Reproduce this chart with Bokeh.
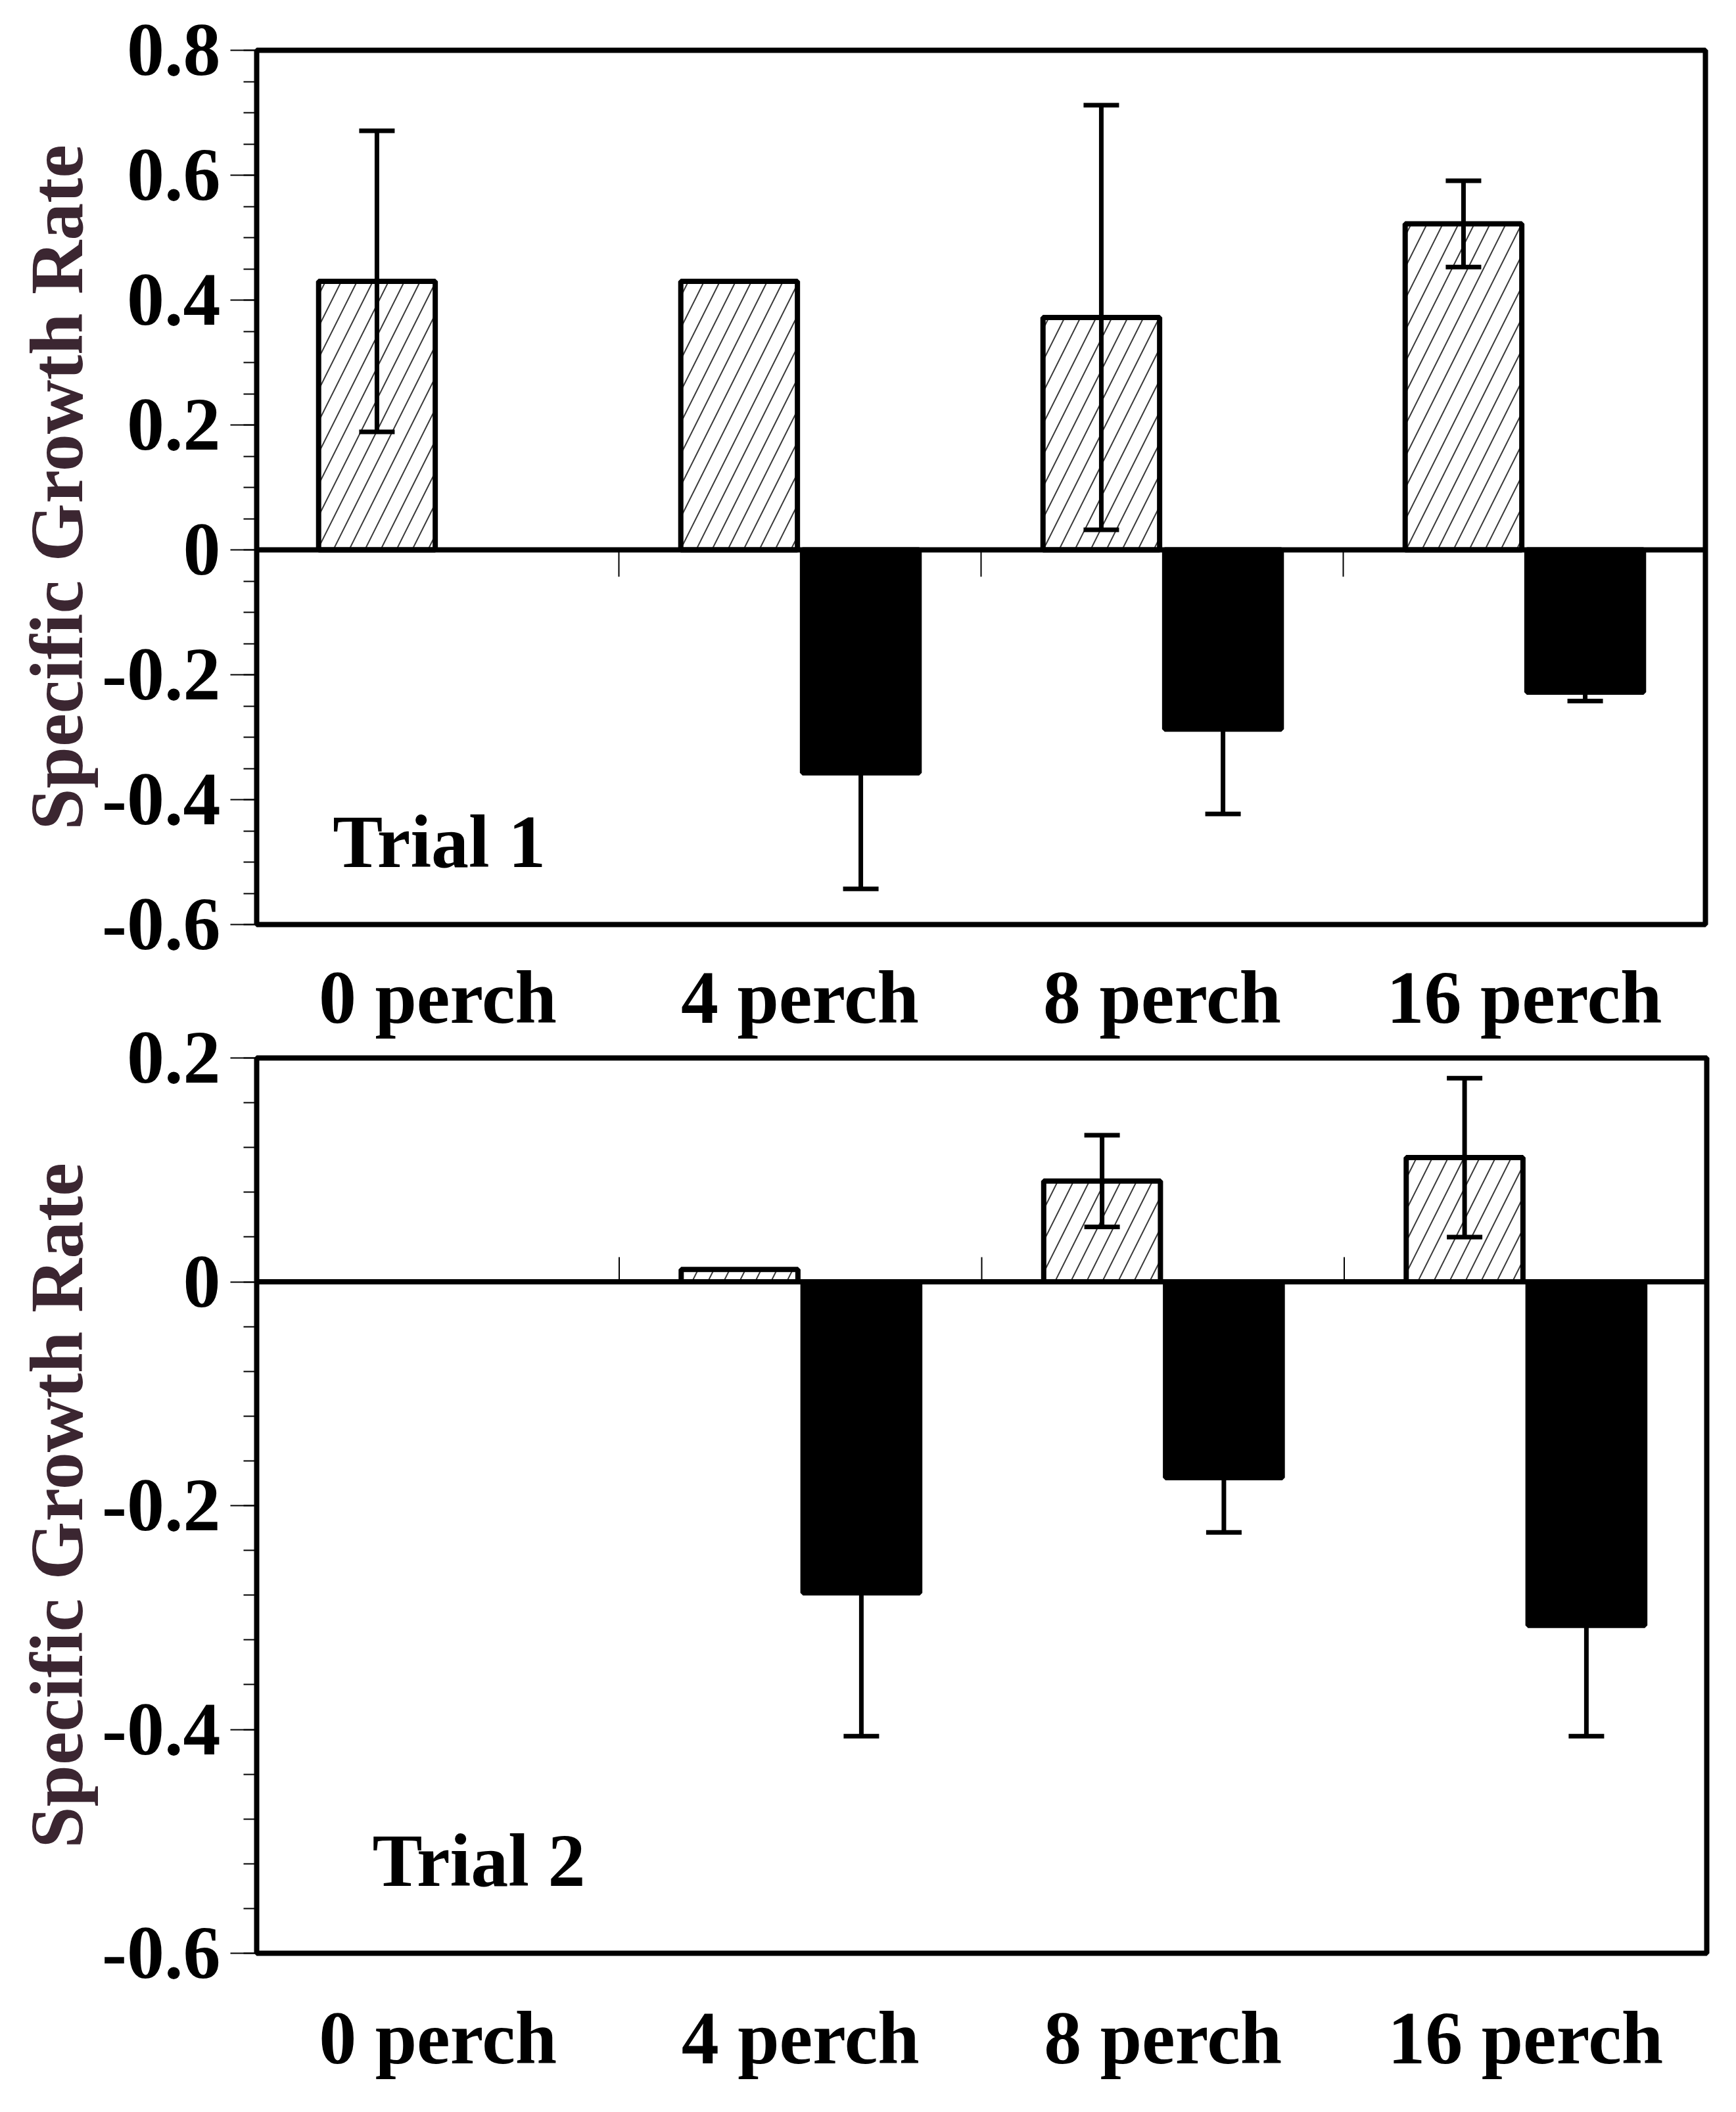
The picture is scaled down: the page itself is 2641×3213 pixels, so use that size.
import numpy as np
from bokeh.plotting import figure
from bokeh.models import (ColumnDataSource, Range1d, FixedTicker, Whisker, TeeHead,
                          Span, Label, LinearAxis)
from bokeh.layouts import column
from bokeh.embed import file_html
from bokeh.resources import INLINE

# ---------------- data ----------------
categories = ["0 perch", "4 perch", "8 perch", "16 perch"]

trial1_hatched = [0.430, 0.430, 0.372, 0.522]
trial1_hatched_err = [0.241, None, 0.340, 0.069]
trial1_solid = [None, -0.357, -0.287, -0.228]
trial1_solid_err = [None, 0.186, 0.136, 0.014]

trial2_hatched = [None, 0.011, 0.090, 0.111]
trial2_hatched_err = [None, None, 0.041, 0.071]
trial2_solid = [None, -0.278, -0.175, -0.307]
trial2_solid_err = [None, 0.128, 0.049, 0.099]

trial1_yticks = [-0.6, -0.4, -0.2, 0.0, 0.2, 0.4, 0.6, 0.8]
trial1_ylabels = ["-0.6", "-0.4", "-0.2", "0", "0.2", "0.4", "0.6", "0.8"]
trial2_yticks = [-0.6, -0.4, -0.2, 0.0, 0.2]
trial2_ylabels = ["-0.6", "-0.4", "-0.2", "0", "0.2"]

y_title = "Specific Growth Rate"

FONT = "Liberation Serif"
FS = "114px"
BAR_W = 0.322
OFFSET = 0.168


def bar_source(values, errors, shift):
    xs, tops = [], []
    ex, eu, el = [], [], []
    for i, v in enumerate(values):
        if v is None:
            continue
        x = i + 0.5 + shift
        xs.append(x)
        tops.append(v)
        e = errors[i]
        if e is not None:
            ex.append(x)
            eu.append(v + e)
            el.append(v - e)
    return (ColumnDataSource(dict(x=xs, top=tops)),
            ColumnDataSource(dict(x=ex, upper=eu, lower=el)))


def make_panel(hatched, hatched_err, solid, solid_err, yticks, ylabels, minor_step,
               frame_w, frame_h, b_left, b_top, b_bottom, x_standoff,
               tick_len, trial_text, tx, ty, border_fill):
    n = len(categories)
    ystart, yend = yticks[0], yticks[-1]
    p = figure(frame_width=frame_w, frame_height=frame_h,
               x_range=Range1d(0, n), y_range=Range1d(ystart, yend),
               x_axis_type=None, y_axis_type=None,
               output_backend="svg", toolbar_location=None,
               min_border_left=b_left, min_border_top=b_top,
               min_border_bottom=b_bottom, min_border_right=20,
               background_fill_color="white", border_fill_color=border_fill)
    p.outline_line_color = "black"
    p.outline_line_width = 8
    p.xgrid.visible = False
    p.ygrid.visible = False

    minor = list(np.round(np.arange(ystart, yend + 1e-9, minor_step), 4))
    yaxis = LinearAxis(ticker=FixedTicker(ticks=yticks, minor_ticks=minor),
                       major_label_overrides=dict(zip(yticks, ylabels)),
                       axis_label=y_title)
    yaxis.axis_line_color = None
    yaxis.major_tick_out = 40
    yaxis.major_tick_in = 0
    yaxis.minor_tick_out = 20
    yaxis.minor_tick_in = 0
    yaxis.major_tick_line_width = 2
    yaxis.minor_tick_line_width = 2
    yaxis.major_label_text_font = FONT
    yaxis.major_label_text_font_style = "bold"
    yaxis.major_label_text_font_size = FS
    yaxis.major_label_text_color = "black"
    yaxis.major_label_standoff = 15
    yaxis.axis_label_text_font = FONT
    yaxis.axis_label_text_font_style = "bold"
    yaxis.axis_label_text_font_size = FS
    yaxis.axis_label_text_color = "#3b2631"
    yaxis.axis_label_standoff = 2
    p.add_layout(yaxis, "left")

    centers = [i + 0.5 for i in range(n)]
    xaxis = LinearAxis(ticker=FixedTicker(ticks=centers, minor_ticks=[]),
                       major_label_overrides=dict(zip(centers, categories)))
    xaxis.axis_line_color = None
    xaxis.major_tick_out = 0
    xaxis.major_tick_in = 0
    xaxis.minor_tick_out = 0
    xaxis.minor_tick_in = 0
    xaxis.major_label_text_font = FONT
    xaxis.major_label_text_font_style = "bold"
    xaxis.major_label_text_font_size = FS
    xaxis.major_label_text_color = "black"
    xaxis.major_label_standoff = x_standoff
    p.add_layout(xaxis, "below")

    hsrc, hesrc = bar_source(hatched, hatched_err, -OFFSET)
    ssrc, sesrc = bar_source(solid, solid_err, OFFSET)

    p.vbar(x="x", top="top", bottom=0, width=BAR_W, source=hsrc,
           fill_color="white", line_color="black", line_width=8,
           hatch_pattern="/", hatch_color="#3a3a3a", hatch_weight=2, hatch_scale=48)
    p.vbar(x="x", top="top", bottom=0, width=BAR_W, source=ssrc,
           fill_color="black", line_color="black", line_width=8)

    # boundary ticks on the zero line
    bounds = list(range(1, n))
    p.segment(x0=bounds, x1=bounds, y0=[0] * len(bounds), y1=[tick_len] * len(bounds),
              line_color="black", line_width=2)

    p.add_layout(Span(location=0, dimension="width", line_color="black", line_width=8))

    for src in (hesrc, sesrc):
        w = Whisker(source=src, base="x", upper="upper", lower="lower",
                    dimension="height", line_color="black", line_width=7,
                    level="annotation",
                    upper_head=TeeHead(size=54, line_width=7, line_color="black"),
                    lower_head=TeeHead(size=54, line_width=7, line_color="black"))
        p.add_layout(w)

    p.add_layout(Label(x=tx, y=ty, text=trial_text, text_font=FONT,
                       text_font_style="bold", text_font_size=FS,
                       text_color="black", text_align="left",
                       text_baseline="alphabetic"))
    return p


p1 = make_panel(trial1_hatched, trial1_hatched_err, trial1_solid, trial1_solid_err,
                trial1_yticks, trial1_ylabels, 0.05,
                frame_w=2204, frame_h=1330, b_left=386, b_top=76, b_bottom=175,
                x_standoff=47, tick_len=-0.043, trial_text="Trial 1", tx=0.21, ty=-0.467,
                border_fill="white")

p2 = make_panel(trial2_hatched, trial2_hatched_err, trial2_solid, trial2_solid_err,
                trial2_yticks, trial2_ylabels, 0.04,
                frame_w=2206, frame_h=1362, b_left=390, b_top=76, b_bottom=195,
                x_standoff=65, tick_len=0.022, trial_text="Trial 2", tx=0.319, ty=-0.517,
                border_fill=None)
p2.margin = (-50, 0, 0, 0)

layout = column(p1, p2)
open("out.html", "w").write(file_html(layout, INLINE))
